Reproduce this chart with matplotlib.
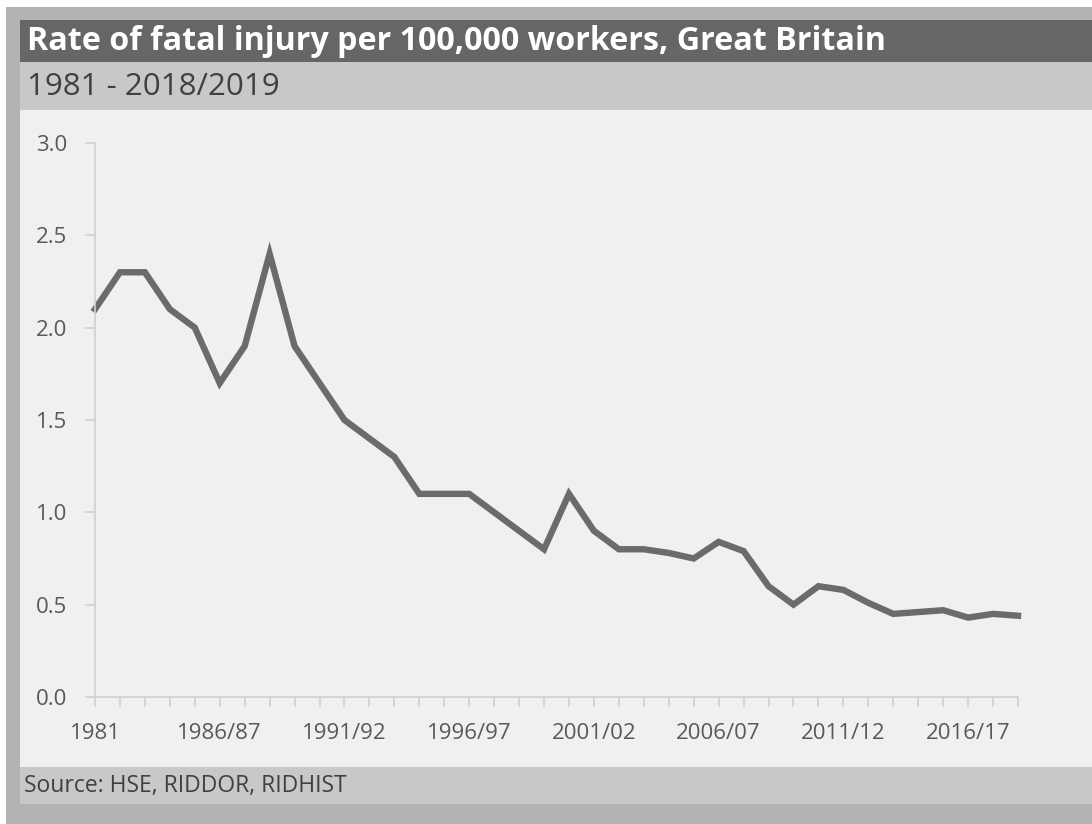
import matplotlib.pyplot as plt
from matplotlib.patches import Rectangle
import numpy as np

# data (HSE RIDDOR fatal injury rate)
years = ['1981', '1982', '1983', '1984', '1985', '1986/87', '1987/88', '1988/89',
         '1989/90', '1990/91', '1991/92', '1992/93', '1993/94', '1994/95', '1995/96',
         '1996/97', '1997/98', '1998/99', '1999/00', '2000/01', '2001/02', '2002/03',
         '2003/04', '2004/05', '2005/06', '2006/07', '2007/08', '2008/09', '2009/10',
         '2010/11', '2011/12', '2012/13', '2013/14', '2014/15', '2015/16', '2016/17',
         '2017/18', '2018/19']
rate = [2.1, 2.3, 2.3, 2.1, 2.0, 1.7, 1.9, 2.4,
        1.9, 1.7, 1.5, 1.4, 1.3, 1.1, 1.1,
        1.1, 1.0, 0.9, 0.8, 1.1, 0.9, 0.8,
        0.8, 0.78, 0.75, 0.84, 0.79, 0.6, 0.5,
        0.6, 0.58, 0.51, 0.45, 0.46, 0.47, 0.43,
        0.45, 0.44]
yticks = [0.0, 0.5, 1.0, 1.5, 2.0, 2.5, 3.0]

W, H = 1092, 824
fig = plt.figure(figsize=(W / 100, H / 100), dpi=100)
fig.patch.set_facecolor('white')

def box(x0, y0, x1, y1, color):
    # pixel coords (top-left origin) -> figure fraction
    fig.add_artist(Rectangle((x0 / W, 1 - y1 / H), (x1 - x0) / W, (y1 - y0) / H,
                             transform=fig.transFigure, facecolor=color,
                             edgecolor='none', zorder=0))

box(6, 7, W, H, '#b3b3b3')        # outer frame
box(20, 20, W, 62, '#666666')     # title bar
box(20, 62, W, 110, '#c8c8c8')    # subtitle bar
box(20, 110, W, 767, '#f0f0f0')   # plot area
box(20, 767, W, 804, '#c8c8c8')   # source bar

fig.text(27 / W, 1 - 41 / H, 'Rate of fatal injury per 100,000 workers, Great Britain',
         family='Open Sans', weight='bold', fontsize=23.2, color='white', va='center')
fig.text(27 / W, 1 - 87 / H, '1981 - 2018/2019',
         family='Open Sans', fontsize=22.5, color='#404040', va='center')
fig.text(24 / W, 1 - 786 / H, 'Source: HSE, RIDDOR, RIDHIST',
         family='Open Sans', fontsize=16.5, color='#404040', va='center')

# axes placed so that index 0..37 spans px 95..1018 and 0..3 spans px 697..143
ax = fig.add_axes([95 / W, 1 - 697 / H, (1018 - 95) / W, (697 - 143) / H])
ax.patch.set_alpha(0)
x = np.arange(len(years))
ax.plot(x, rate, color='#6b6b6b', lw=4.6, solid_joinstyle='miter', clip_on=False)

ax.set_xlim(0, len(years) - 1)
ax.set_ylim(0, 3)
ax.set_yticks(yticks)
ax.set_yticklabels(['%.1f' % v for v in yticks])
ax.set_xticks(x)
ax.set_xticklabels([y if i % 5 == 0 else '' for i, y in enumerate(years)])

for s in ['top', 'right']:
    ax.spines[s].set_visible(False)
for s in ['left', 'bottom']:
    ax.spines[s].set_color('#d0d0d0')
    ax.spines[s].set_linewidth(1.2)
ax.tick_params(axis='both', color='#d0d0d0', width=1.2, length=7,
               labelcolor='#595959', labelsize=16)
ax.tick_params(axis='y', pad=13)
ax.tick_params(axis='x', pad=12)
for lab in ax.get_xticklabels() + ax.get_yticklabels():
    lab.set_family('Open Sans')

fig.savefig('out.png', dpi=100, facecolor=fig.get_facecolor())
